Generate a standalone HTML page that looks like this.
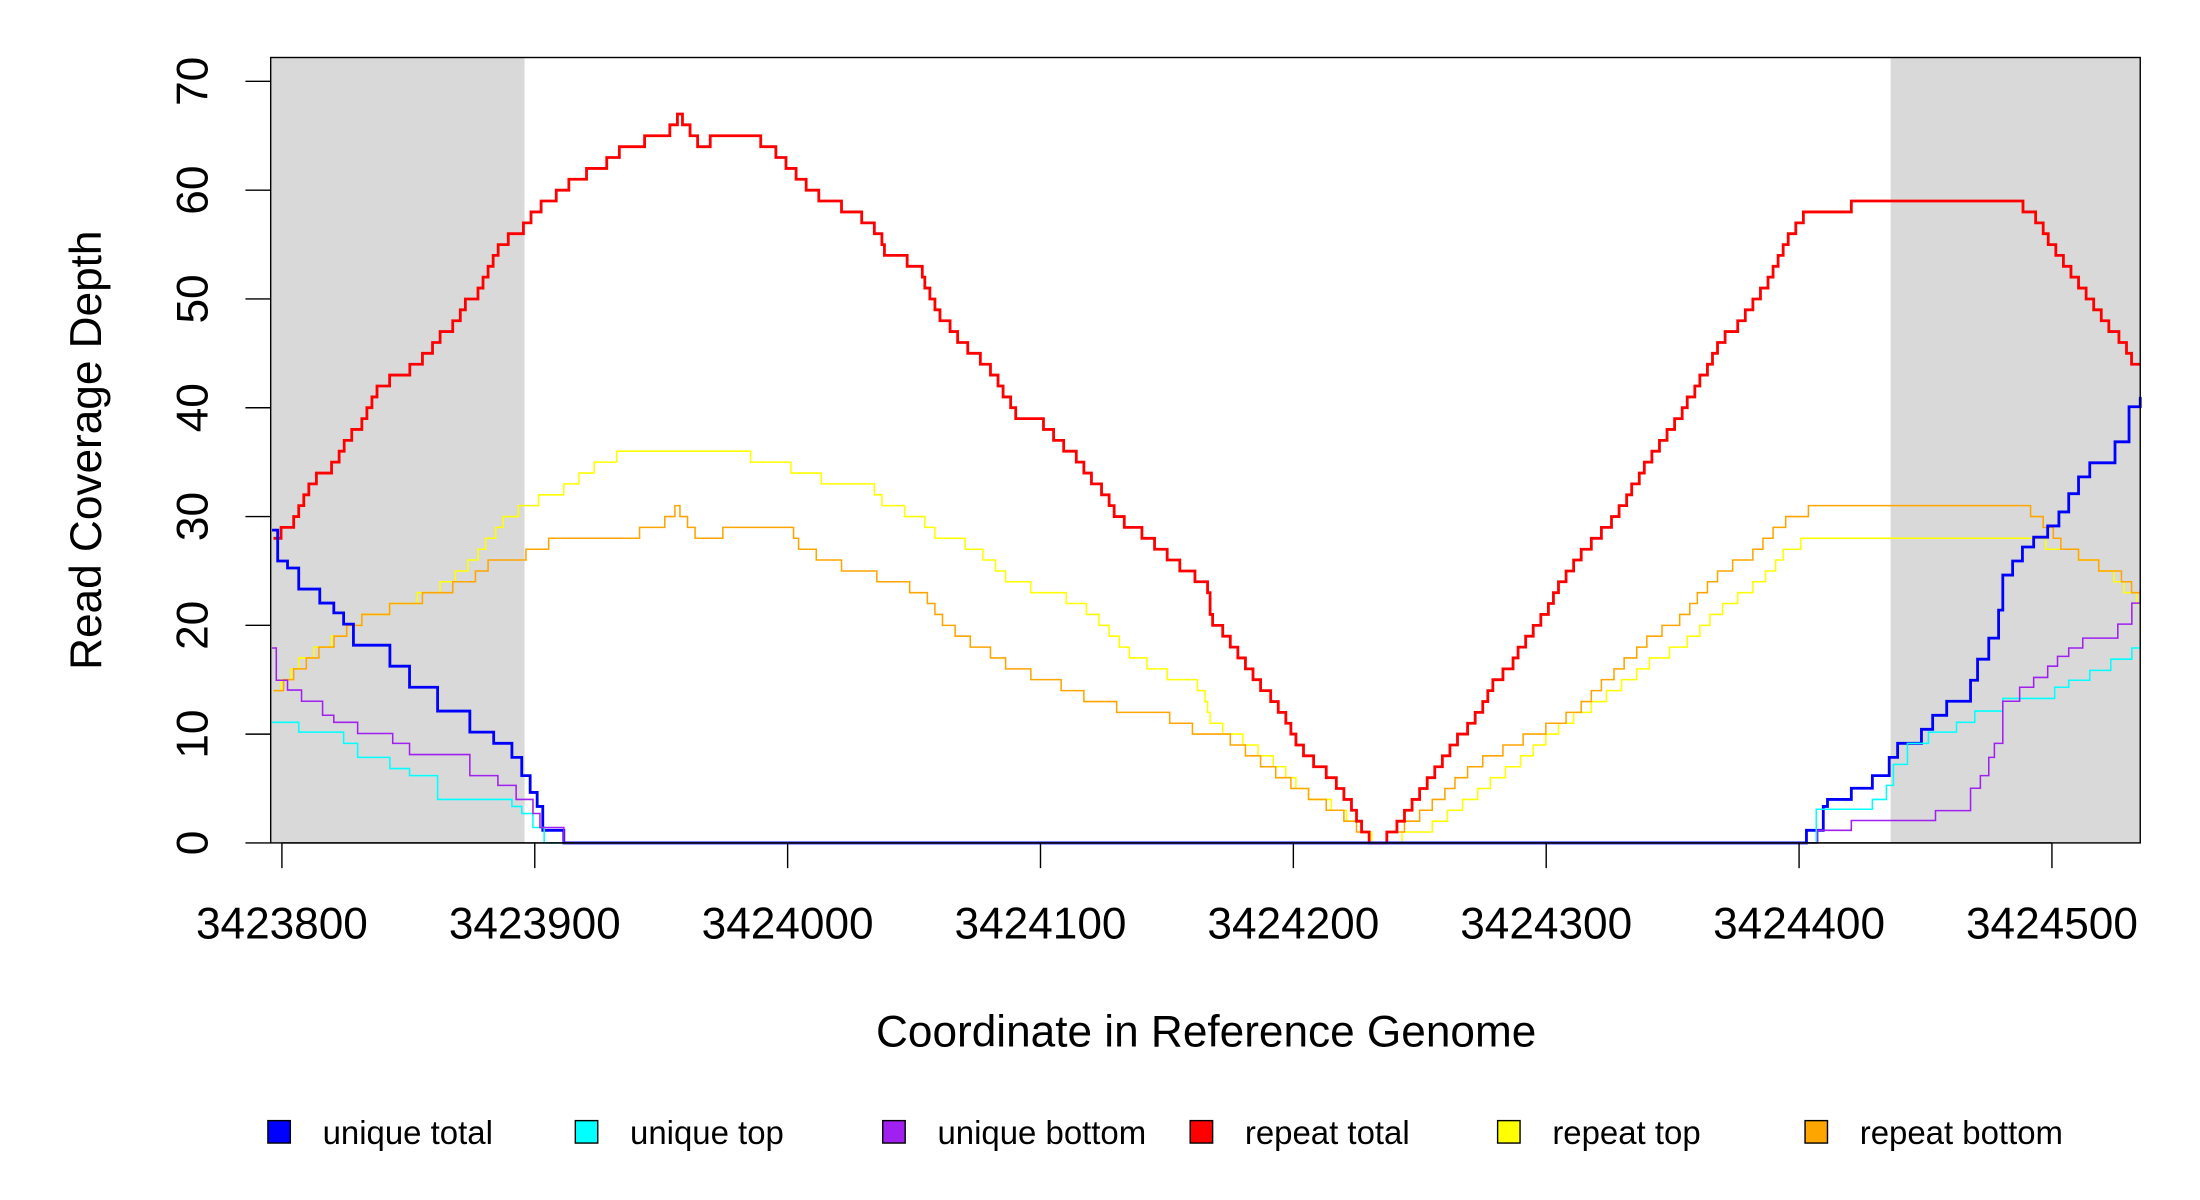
<!DOCTYPE html>
<html><head><meta charset="utf-8"><style>
html,body{margin:0;padding:0;background:#fff;width:2200px;height:1200px;overflow:hidden;}
svg{display:block;}
text{font-family:"Liberation Sans",Arial,sans-serif;fill:#000;}
</style></head><body>
<svg id="s" width="2200" height="1200" viewBox="0 0 1568.6 855.6" preserveAspectRatio="none" xmlns="http://www.w3.org/2000/svg">
<rect x="0" y="0" width="1568.6" height="855.6" fill="#fff"/>
<rect x="193" y="41" width="181" height="560" fill="#d9d9d9"/>
<rect x="1348" y="41" width="178" height="560" fill="#d9d9d9"/>
<g id="series" fill="none" stroke-linejoin="miter"></g>
<rect x="193" y="41" width="1333" height="560" fill="none" stroke="#000" stroke-width="1"/>
<g stroke="#000" stroke-width="1" id="ticks"></g>
<g font-size="31.5" text-anchor="middle" id="labels"></g>
<text x="860" y="746" font-size="31.5" text-anchor="middle">Coordinate in Reference Genome</text>
<text transform="translate(72,321) rotate(-90)" font-size="31.5" text-anchor="middle">Read Coverage Depth</text>
<g font-size="23.5" id="legend"></g>
</svg>
<script>
var NS="http://www.w3.org/2000/svg";
function el(t,a,p,txt){var e=document.createElementNS(NS,t);for(var k in a)e.setAttribute(k,a[k]);if(txt)e.textContent=txt;p.appendChild(e);return e;}
var ticks=document.getElementById('ticks'),labels=document.getElementById('labels');
for(var i=0;i<=7;i++){var y=601-i*77.57;el('line',{x1:175,y1:y,x2:193,y2:y},ticks);
 el('text',{transform:'translate(148,'+y+') rotate(-90)','text-anchor':'middle'},labels,String(i*10));}
el('line',{x1:201,y1:601,x2:1463,y2:601},ticks);
for(var i=0;i<=7;i++){var x=201+i*180.29;el('line',{x1:x,y1:601,x2:x,y2:619},ticks);
 el('text',{x:x,y:669},labels,String(3423800+i*100));}
var ppd=7.757;
function rep(pts){var d='',n=pts.length,x0=pts[0][0],x1=pts[n-1][0],j=0,prev=null;
 for(var x=x0;x<=x1+0.01;x+=1.8){while(j<n-2&&pts[j+1][0]<x)j++;
  var a=pts[j],b=pts[j+1],t=(b[0]===a[0])?0:(x-a[0])/(b[0]-a[0]);t=Math.max(0,Math.min(1,t));
  var dy=a[1]+(b[1]-a[1])*t;var dep=Math.round((601-dy)/ppd);var yy=(601-dep*ppd).toFixed(1);
  if(prev===null)d='M'+x.toFixed(1)+' '+yy;else{d+='H'+x.toFixed(1);if(yy!==prev)d+='V'+yy;}prev=yy;}
 d+='H'+x1;return d;}
function stp(pts){var d='M'+pts[0][0]+' '+pts[0][1];for(var i=1;i<pts.length;i++)d+='H'+pts[i][0]+'V'+pts[i][1];return d;}
var red=[[195,385],[210,370],[220,345],[240,330],[245,315],[255,305],[262,290],[270,275],[280,270],[295,262],[305,250],[315,238],[325,230],[330,218],[340,210],[348,190],[357,175],[365,168],[374,162],[380,150],[395,140],[410,128],[430,118],[445,105],[460,100],[478,92],[483,82],[490,90],[500,105],[510,98],[530,97],[545,102],[555,110],[568,125],[580,138],[595,145],[610,152],[625,165],[630,178],[655,190],[660,205],[670,225],[680,238],[690,250],[705,262],[715,280],[725,298],[740,300],[755,315],[770,330],[780,345],[790,355],[797,370],[810,378],[825,390],[835,400],[850,410],[860,418],[863,440],[875,455],[885,470],[895,485],[905,495],[915,510],[925,530],[935,543],[950,555],[960,570],[968,585],[975,598],[982,601],[990,596],[1000,582],[1010,568],[1020,555],[1030,538],[1045,520],[1055,505],[1065,485],[1075,478],[1085,460],[1100,440],[1110,420],[1120,405],[1135,385],[1150,370],[1165,345],[1180,320],[1195,300],[1210,275],[1225,245],[1240,230],[1250,215],[1260,200],[1270,180],[1280,160],[1290,150],[1310,150],[1320,147],[1340,145],[1420,145],[1440,146],[1450,155],[1460,170],[1470,185],[1480,200],[1490,215],[1500,230],[1510,240],[1520,258],[1526,262]];
var yel=[[195,495],[215,470],[240,455],[260,440],[290,430],[320,415],[340,395],[360,370],[380,358],[400,350],[420,335],[440,325],[460,322],[480,322],[515,318],[540,328],[570,335],[590,343],[620,345],[630,360],[655,368],[670,385],[690,388],[700,395],[720,415],[740,420],[770,430],[790,450],[800,462],[820,475],[840,485],[858,490],[862,515],[890,530],[910,545],[930,565],[950,575],[970,590],[980,601],[1000,597],[1020,590],[1040,575],[1060,560],[1080,545],[1100,528],[1120,512],[1140,500],[1160,485],[1180,470],[1200,460],[1220,440],[1240,425],[1260,410],[1275,390],[1285,387],[1340,384],[1440,384],[1460,388],[1480,395],[1500,405],[1526,430]];
var org=[[195,495],[215,475],[240,455],[260,440],[290,430],[320,420],[340,410],[355,397],[380,395],[395,385],[420,380],[440,385],[470,375],[483,362],[490,375],[500,385],[530,375],[565,380],[570,390],[590,400],[620,410],[640,415],[660,425],[670,440],[685,455],[700,462],[720,475],[740,483],[760,490],[780,500],[800,505],[830,510],[850,520],[870,522],[880,530],[900,545],[930,565],[960,583],[980,601],[1000,590],[1020,575],[1040,555],[1060,540],[1080,530],[1100,520],[1120,510],[1140,490],[1160,470],[1180,452],[1200,440],[1215,420],[1230,405],[1250,395],[1265,378],[1275,370],[1285,365],[1300,362],[1330,360],[1440,360],[1455,370],[1470,390],[1490,400],[1510,410],[1526,425]];
var blue=[[194,378],[198,400],[205,405],[213,420],[228,430],[238,437],[245,445],[252,460],[278,475],[292,490],[312,507],[335,522],[352,530],[365,540],[372,553],[378,565],[383,575],[387,592],[402,601],[1288,592],[1300,575],[1303,570],[1320,562],[1335,553],[1347,540],[1353,530],[1370,520],[1378,510],[1388,500],[1405,485],[1410,470],[1418,455],[1425,435],[1428,410],[1435,400],[1442,390],[1450,383],[1460,375],[1468,365],[1475,352],[1482,340],[1490,330],[1508,315],[1518,290],[1526,283]];
var cyan=[[194,515],[213,522],[245,530],[255,540],[278,548],[292,553],[312,570],[365,575],[372,580],[380,590],[388,601],[1295,577],[1335,570],[1345,560],[1350,545],[1360,530],[1375,522],[1395,515],[1408,507],[1428,498],[1465,490],[1475,485],[1490,478],[1505,470],[1520,462],[1526,458]];
var purp=[[194,462],[197,485],[205,492],[215,500],[230,510],[238,515],[255,523],[280,530],[292,538],[335,553],[355,560],[368,570],[380,580],[385,590],[402,601],[1296,592],[1320,585],[1380,578],[1405,562],[1412,553],[1418,540],[1422,530],[1428,500],[1440,490],[1450,483],[1460,475],[1467,468],[1475,462],[1485,455],[1510,445],[1520,430],[1526,420]];
var g=document.getElementById('series');
el('path',{d:rep(yel),stroke:'#ffff00','stroke-width':1.1},g);
el('path',{d:rep(org),stroke:'#ffa500','stroke-width':1.1},g);
el('path',{d:rep(red),stroke:'#ff0000','stroke-width':2},g);
el('path',{d:stp(blue),stroke:'#0000ff','stroke-width':2},g);
el('path',{d:stp(cyan),stroke:'#00ffff','stroke-width':1.1},g);
el('path',{d:stp(purp),stroke:'#a020f0','stroke-width':1.1},g);
var lg=document.getElementById('legend');
var items=[['unique total','#0000ff'],['unique top','#00ffff'],['unique bottom','#a020f0'],['repeat total','#ff0000'],['repeat top','#ffff00'],['repeat bottom','#ffa500']];
for(var i=0;i<6;i++){var x=191+i*219.2;
 el('rect',{x:x,y:799,width:16,height:16,fill:items[i][1],stroke:'#000','stroke-width':1},lg);
 el('text',{x:x+39,y:815.5},lg,items[i][0]);}
</script>
</body></html>
